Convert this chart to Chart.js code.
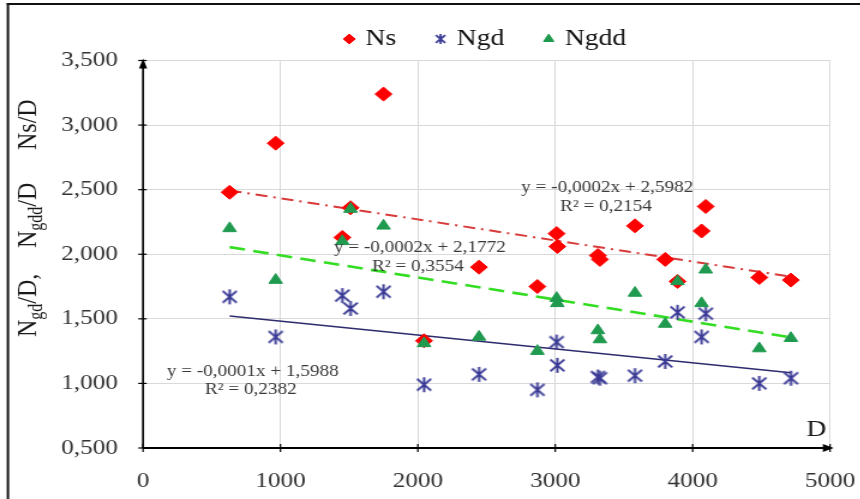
<!DOCTYPE html>
<html>
<head>
<meta charset="utf-8">
<script src="https://cdn.jsdelivr.net/npm/chart.js@4.4.1/dist/chart.umd.min.js"></script>
<style>
  html, body { margin:0; padding:0; background:#fff; overflow:hidden; }
  /* the figure is drawn narrow and stretched sideways, like the printed original */
  #wrap { width:717px; height:499px; transform:scaleX(1.2); transform-origin:0 0; }
</style>
</head>
<body>
<div id="wrap"><canvas id="chart" width="717" height="499"></canvas></div>
<script>
/* ── DATOS ── */
const D    = [630, 965, 1450, 1510, 1750, 2045, 2445, 2870, 3010, 3015, 3310, 3325, 3580, 3800, 3890, 4065, 4095, 4485, 4715];
const NS   = [2.48, 2.86, 2.13, 2.36, 3.24, 1.33, 1.90, 1.75, 2.16, 2.06, 1.99, 1.96, 2.22, 1.96, 1.79, 2.18, 2.37, 1.82, 1.80];
const NGD  = [1.67, 1.36, 1.68, 1.58, 1.71, 0.99, 1.07, 0.95, 1.32, 1.14, 1.05, 1.04, 1.06, 1.17, 1.55, 1.36, 1.54, 1.00, 1.04];
const NGDD = [2.20, 1.80, 2.10, 2.35, 2.22, 1.31, 1.36, 1.25, 1.66, 1.62, 1.41, 1.34, 1.70, 1.46, 1.79, 1.62, 1.88, 1.27, 1.35];

const SERIES   = ['Ns', 'Ngd', 'Ngdd'];
const X_TICKS  = ['0', '1000', '2000', '3000', '4000', '5000'];
const Y_TICKS  = ['0,500', '1,000', '1,500', '2,000', '2,500', '3,000', '3,500'];
const EQ_TEXT  = [
  ['y = -0,0002x + 2,5982', 'R² = 0,2154'],   // Ns
  ['y = -0,0001x + 1,5988', 'R² = 0,2382'],   // Ngd
  ['y = -0,0002x + 2,1772', 'R² = 0,3554'],   // Ngdd
];

/* ── ESTILO ── */
const SERIF  = '"Liberation Serif", "Times New Roman", serif';
const RED    = '#ff0000';
const NAVY   = '#3a3a96';
const GREEN  = '#1f9a4f';
const EQ_POS = [                                // label anchors, in axis units
  [[3378, 2.511], [3370, 2.364]],
  [[798, 1.088],  [785, 0.949]],
  [[2015, 2.047], [2000, 1.900]],
];

// asterisk marker: X plus a vertical stroke
function makeStar(size, lw) {
  const c = document.createElement('canvas');
  c.width = c.height = size;
  const g = c.getContext('2d');
  const m = size / 2, r = size / 2 - 1, k = r * 0.78;
  g.strokeStyle = NAVY; g.lineWidth = lw;
  g.beginPath();
  g.moveTo(m - k, m - k); g.lineTo(m + k, m + k);
  g.moveTo(m + k, m - k); g.lineTo(m - k, m + k);
  g.moveTo(m, m - r);     g.lineTo(m, m + r);
  g.stroke();
  return c;
}
const starPt  = makeStar(17, 2);
const starLeg = makeStar(12, 1.8);

// mínimos cuadrados, línea entre el primer y último D
function trend(ys) {
  const n = D.length;
  const mx = D.reduce((s, v) => s + v, 0) / n;
  const my = ys.reduce((s, v) => s + v, 0) / n;
  let sxy = 0, sxx = 0;
  D.forEach((x, i) => { sxy += (x - mx) * (ys[i] - my); sxx += (x - mx) ** 2; });
  const b = sxy / sxx;
  const x0 = Math.min(...D), x1 = Math.max(...D);
  return [{ x: x0, y: my + b * (x0 - mx) }, { x: x1, y: my + b * (x1 - mx) }];
}
const pts = ys => D.map((d, i) => ({ x: d, y: ys[i] }));

/* ── PLUGINS ── */
const framePlugin = {
  id: 'frame',
  beforeDraw(chart) {
    const { ctx, width, height } = chart;
    ctx.save();
    ctx.fillStyle = '#fff';
    ctx.fillRect(0, 0, width, height);
    ctx.fillStyle = '#111';
    ctx.fillRect(5.6, 3, 2, height);
    ctx.fillRect(5.6, 3, width, 2);
    ctx.restore();
  }
};

const axesPlugin = {
  id: 'axes',
  beforeDatasetsDraw(chart) {
    const { ctx, chartArea: a, scales: { x, y } } = chart;
    const seg = (x0, y0, x1, y1) => { ctx.beginPath(); ctx.moveTo(x0, y0); ctx.lineTo(x1, y1); ctx.stroke(); };
    ctx.save();
    ctx.strokeStyle = '#000'; ctx.fillStyle = '#000';
    ctx.lineWidth = 1.7;
    seg(a.left, a.bottom, a.left, a.top + 2);
    ctx.lineWidth = 2;
    seg(a.left, a.bottom, a.right - 2, a.bottom);
    ctx.lineWidth = 1.2;
    y.ticks.forEach(t => { const p = y.getPixelForValue(t.value); seg(a.left - 4, p, a.left + 3, p); });
    x.ticks.forEach(t => { const p = x.getPixelForValue(t.value); seg(p, a.bottom - 4, p, a.bottom + 4); });
    // puntas de flecha
    ctx.beginPath();
    ctx.moveTo(a.left, a.top - 2); ctx.lineTo(a.left - 3.4, a.top + 8); ctx.lineTo(a.left + 3.4, a.top + 8);
    ctx.closePath(); ctx.fill();
    ctx.beginPath();
    ctx.moveTo(a.right + 3, a.bottom); ctx.lineTo(a.right - 6, a.bottom - 4); ctx.lineTo(a.right - 6, a.bottom + 4);
    ctx.closePath(); ctx.fill();
    ctx.restore();
  }
};

const textPlugin = {
  id: 'texts',
  afterDatasetsDraw(chart) {
    const { ctx, scales: { x, y } } = chart;
    ctx.save();
    // ecuaciones de tendencia
    ctx.font = '16px ' + SERIF;
    ctx.fillStyle = '#3a3a3a';
    ctx.textAlign = 'center'; ctx.textBaseline = 'middle';
    EQ_TEXT.forEach((lines, i) => lines.forEach((t, j) => {
      const [vx, vy] = EQ_POS[i][j];
      ctx.fillText(t, x.getPixelForValue(vx), y.getPixelForValue(vy));
    }));
    // nombre del eje X
    ctx.font = '23px ' + SERIF;
    ctx.fillStyle = '#1a1a1a';
    ctx.fillText('D', x.getPixelForValue(4900), y.getPixelForValue(0.64));

    // título del eje Y con subíndices
    ctx.translate(30, 337);
    ctx.rotate(-Math.PI / 2);
    ctx.textAlign = 'left'; ctx.textBaseline = 'alphabetic';
    const big = '24px ' + SERIF, small = '16px ' + SERIF;
    const groups = [
      { at: 0,   parts: [['N', 0], ['gd', 1], ['/D,', 0]] },
      { at: 89,  parts: [['N', 0], ['gdd', 1], ['/D', 0]] },
      { at: 187, parts: [['Ns/D', 0]] },
    ];
    groups.forEach(g => {
      let cx = g.at;
      g.parts.forEach(([t, sub]) => {
        ctx.font = sub ? small : big;
        ctx.fillText(t, cx, sub ? 5 : 0);
        cx += ctx.measureText(t).width;
      });
    });
    ctx.restore();
  }
};

/* ── GRÁFICO ── */
const ctx = document.getElementById('chart').getContext('2d');
new Chart(ctx, {
  type: 'scatter',
  data: {
    datasets: [
      { label: SERIES[0], data: pts(NS),   pointStyle: 'rectRot',  pointRadius: 7,   backgroundColor: RED,   borderColor: RED,   borderWidth: 1, order: 5 },
      { label: SERIES[1], data: pts(NGD),  pointStyle: starPt,     pointRadius: 7,   backgroundColor: NAVY,  borderColor: NAVY,  order: 4 },
      { label: SERIES[2], data: pts(NGDD), pointStyle: 'triangle', pointRadius: 6.5, backgroundColor: GREEN, borderColor: GREEN, borderWidth: 1, order: 3 },
      { type: 'line', label: 'tNs',   data: trend(NS),   showLine: true, pointRadius: 0, borderColor: '#d83a3a', borderWidth: 2,   borderDash: [10, 5, 2, 5], order: 8 },
      { type: 'line', label: 'tNgd',  data: trend(NGD),  showLine: true, pointRadius: 0, borderColor: '#2e2b6e', borderWidth: 1.5, order: 8 },
      { type: 'line', label: 'tNgdd', data: trend(NGDD), showLine: true, pointRadius: 0, borderColor: '#33dd22', borderWidth: 2.6, borderDash: [13, 7], order: 8 },
    ]
  },
  options: {
    responsive: false,
    animation: false,
    layout: { padding: { top: -7.5, left: 0, right: 25.3, bottom: 0 } },
    plugins: {
      tooltip: { enabled: false },
      legend: {
        position: 'top',
        fullSize: false,
        labels: {
          usePointStyle: true,
          boxWidth: 4, boxHeight: 7,
          padding: 35,
          color: '#111',
          font: { family: SERIF, size: 23 },
          filter: it => it.datasetIndex < 3,
          sort: (a, b) => a.datasetIndex - b.datasetIndex,
          generateLabels(chart) {
            const items = Chart.defaults.plugins.legend.labels.generateLabels(chart);
            items.forEach(it => { if (it.datasetIndex === 1) it.pointStyle = starLeg; });
            return items;
          }
        }
      }
    },
    scales: {
      x: {
        type: 'linear', min: 0, max: 5000,
        afterFit: s => { s.height = 51; s.paddingLeft = 0; s.paddingRight = 0; },
        afterBuildTicks: s => { s.ticks = X_TICKS.map(v => ({ value: +v })); },
        grid: { color: '#d9d9d9', lineWidth: 1, drawTicks: false },
        border: { display: false },
        ticks: {
          padding: 21, color: '#333',
          font: { family: SERIF, size: 21 },
          callback: (v, i) => X_TICKS[i]
        }
      },
      y: {
        type: 'linear', min: 0.5, max: 3.5,
        afterFit: s => { s.width = 119.2; s.paddingTop = 0; s.paddingBottom = 0; },
        afterBuildTicks: s => { s.ticks = Y_TICKS.map(t => ({ value: parseFloat(t.replace(',', '.')) })); },
        grid: { color: '#d9d9d9', lineWidth: 1, drawTicks: false },
        border: { display: false },
        ticks: {
          padding: 21, color: '#333',
          font: { family: SERIF, size: 21 },
          callback: (v, i) => Y_TICKS[i]
        }
      }
    }
  },
  plugins: [framePlugin, axesPlugin, textPlugin]
});
</script>
</body>
</html>
